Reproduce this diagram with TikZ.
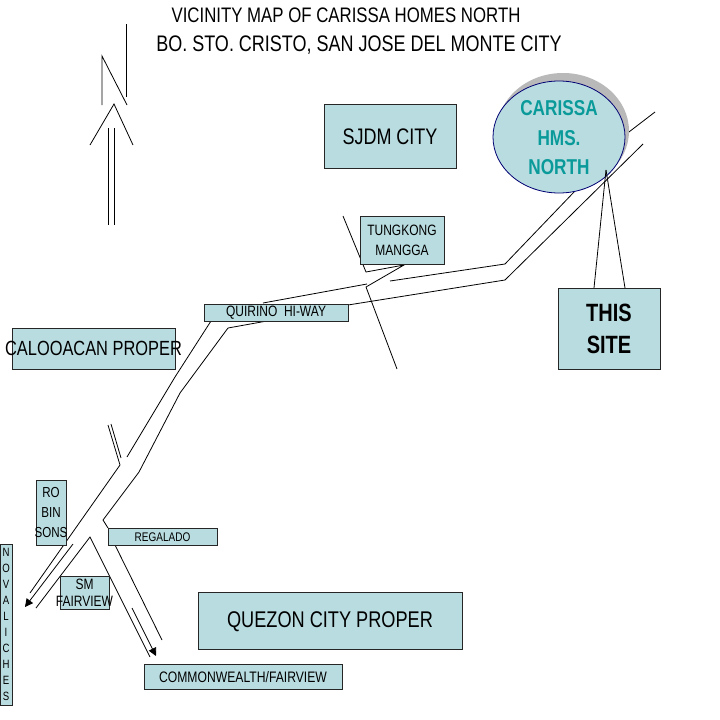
\documentclass[tikz,border=0pt]{standalone}
\usepackage{fontspec}
\usetikzlibrary{arrows.meta,shapes.geometric}
\setmainfont{Liberation Sans}
\newfontfamily\nar[FakeStretch=0.8]{Liberation Sans}
\definecolor{boxfill}{HTML}{B9DCE0}
\definecolor{teal2}{HTML}{0A9A9A}
\newcommand{\boxtxt}[3]{{\fontsize{#1}{#2}\selectfont\makebox[0pt]{\raisebox{-.27em}[0pt][0pt]{\parbox{300pt}{\centering #3}}}}}
\tikzset{
  road/.style={draw=black,line width=0.8pt},
  mapbox/.style={draw=black!85,line width=0.9pt,fill=boxfill,inner sep=0pt,outer sep=0pt,font=\nar,text=black},
  titletext/.style={inner sep=0pt,text=black}
}
\begin{document}
\begin{tikzpicture}[x=1pt,y=-1pt]
\useasboundingbox (0,0) rectangle (720,720);
\fill[white] (0,0) rectangle (720,720);
% title
\node[titletext,font=\nar\fontsize{21}{21}\selectfont] (t1) at (346,15) {VICINITY MAP OF CARISSA HOMES NORTH};
\node[titletext,font=\nar\fontsize{22.5}{22.5}\selectfont] (t2) at (359,45) {BO. STO. CRISTO, SAN JOSE DEL MONTE CITY};
% north sign
\draw[road] (102,105) -- (102,56) -- (127,105);
\draw[road] (126,24) -- (126,97);
\draw[road] (90,145) -- (114,104) -- (133,145);
\draw[road] (108,128) -- (108,225);
\draw[road] (114,128) -- (114,225);
% main road
\draw[road] (263,303) -- (367,284);
\draw[road] (390,281) -- (505,264) -- (575,191);
\draw[road] (625,135) -- (655,112);
\draw[road] (228,328) -- (267,321);
\draw[road] (348,305) -- (505,280) -- (643,144);
\draw[road] (211,321) -- (175,377) -- (127,457);
\draw[road] (228,328) -- (180,393) -- (139,472) -- (103,520) -- (108,528);
\draw[road] (108,425) -- (120,465) -- (30,593);
\draw[road] (111,424) -- (121,458);
\draw[road] (115,545) -- (162,640);
\draw[road] (150,657) -- (90,537) -- (36,608);
% direction arrows
\draw[road,-{Triangle[length=8pt,width=8pt]}] (73,544) -- (25,607);
\draw[road,-{Triangle[length=8pt,width=8pt]}] (132,608) -- (156,656);
% crossroad
\draw[road] (343,216) -- (366,272) -- (404,265) -- (366,287) -- (397,369);
% boxes
\node[mapbox,minimum width=132pt,minimum height=64pt] (sjdm) at (390,136) {\boxtxt{22.5}{24}{SJDM CITY}};
\node[mapbox,minimum width=84pt,minimum height=48pt] (tungkong) at (402,240) {\boxtxt{15}{20}{TUNGKONG\\MANGGA}};
\node[mapbox,minimum width=144pt,minimum height=17pt] (quirino) at (276,312.5) {\boxtxt{15}{15}{QUIRINO\ \ HI-WAY}};
\node[mapbox,minimum width=163pt,minimum height=41pt] (caloo) at (93.5,348.5) {\boxtxt{20.5}{22}{CALOOACAN PROPER}};
\node[mapbox,minimum width=102pt,minimum height=81pt,font=\bfseries\nar] (site) at (609,328.5) {\boxtxt{25}{32.5}{THIS\\SITE}};
\node[mapbox,minimum width=30pt,minimum height=65pt] (robinsons) at (51,512.5) {\boxtxt{14.5}{20}{RO\\BIN\\SONS}};
\node[mapbox,minimum width=109pt,minimum height=17pt] (regalado) at (162.5,536.5) {\boxtxt{12.5}{12}{REGALADO}};
\node[mapbox,minimum width=12pt,minimum height=161pt] (novaliches) at (6,624.5) {\boxtxt{12}{16}{N\\O\\V\\A\\L\\I\\C\\H\\E\\S}};
\node[mapbox,minimum width=49pt,minimum height=33pt] (smfair) at (84.5,592.5) {\boxtxt{15}{17}{SM\\FAIRVIEW}};
\node[mapbox,minimum width=264pt,minimum height=57pt] (quezon) at (330,620.5) {\boxtxt{22.7}{24}{QUEZON CITY PROPER}};
\node[mapbox,minimum width=198pt,minimum height=25pt] (common) at (243,676.5) {\boxtxt{15.2}{16}{COMMONWEALTH/FAIRVIEW}};
% site ellipse
\fill[gray!55] (563,131) ellipse [x radius=66pt,y radius=58pt];
\node[ellipse,draw=blue!45!black,line width=0.8pt,fill=boxfill,minimum width=132pt,minimum height=112pt,inner sep=0pt,outer sep=0pt,font=\bfseries\nar,text=teal2] (carissa) at (559,137) {\boxtxt{21.5}{29.5}{CARISSA\\HMS.\\NORTH}};
% this-site pointer
\coordinate (tip) at (606,170);
\coordinate (legA) at (594,288);
\coordinate (legB) at (625,288);
\draw[road] (tip) -- (legA);
\draw[road] (tip) -- (legB);
\end{tikzpicture}
\end{document}
